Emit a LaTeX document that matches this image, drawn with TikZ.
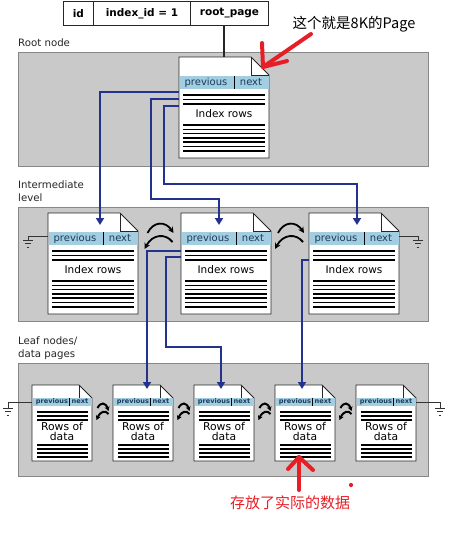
\documentclass[tikz,border=0pt]{standalone}
\usepackage{fontspec}
\setmainfont{DejaVu Sans}
\newfontfamily\cjk{Noto Sans CJK SC}
\usetikzlibrary{calc,arrows.meta}
\definecolor{bandgrey}{RGB}{201,201,201}
\definecolor{bandline}{RGB}{135,135,135}
\definecolor{hdrblue}{RGB}{163,206,226}
\definecolor{hdrtext}{RGB}{25,60,90}
\definecolor{linkblue}{RGB}{35,50,140}
\definecolor{annred}{RGB}{232,30,38}
\tikzset{
  band/.style={draw=bandline, fill=bandgrey, line width=0.8pt, anchor=north west, inner sep=0pt, minimum width=410pt, minimum height=114pt},
  pagebody/.style={anchor=north west, inner sep=0pt, outer sep=0pt},
  pageline/.style={draw=black!85, line width=0.9pt, line join=miter},
  rowline/.style={black, line width=1.6pt},
  hdrfont/.style={font=\fontsize{10}{12}\selectfont, text=hdrtext, inner sep=0pt, text height=7.5pt, text depth=2pt},
  leafhdr/.style={font=\fontsize{6.6}{8}\selectfont\bfseries, text=hdrtext, inner sep=0pt, text height=5pt, text depth=1.4pt},
  bodyfont/.style={font=\fontsize{10.5}{12}\selectfont, inner sep=0pt, text height=7.8pt, text depth=2pt},
  lbl/.style={font=\fontsize{10.2}{13}\selectfont, text=black!85, anchor=west, align=left, inner sep=0pt},
  cell/.style={draw=black!85, line width=0.9pt, fill=white, anchor=north west, inner sep=0pt, minimum height=24pt, font=\fontsize{10.5}{12}\selectfont\bfseries},
  link/.style={draw=linkblue, line width=1.9pt, -{Triangle[length=7pt,width=8pt]}},
  swapbig/.style={black, line width=1.8pt, -{Stealth[length=6pt,width=6pt]}},
  swapleaf/.style={black, line width=2pt, -{Stealth[length=4.5pt,width=5pt]}},
  gline/.style={draw=black!80, line width=0.9pt},
  redarrow/.style={draw=annred, line width=4pt, line cap=round, line join=round},
}
\newcommand\bigpage[3]{%
  \node[pagebody, minimum width=90pt, minimum height=101pt] (#1) at (#2,#3) {};
  \filldraw[pageline, fill=white] (#1.north west) -- ([xshift=-18pt]#1.north east) -- ([yshift=-18pt]#1.north east) -- (#1.south east) -- (#1.south west) -- cycle;
  \draw[pageline] ([xshift=-18pt]#1.north east) |- ([yshift=-18pt]#1.north east);
  \fill[hdrblue] ([xshift=0.5pt,yshift=-19pt]#1.north west) rectangle ([xshift=-0.5pt,yshift=-32pt]#1.north east);
  \node[hdrfont] at ([xshift=27pt,yshift=-25.5pt]#1.north west) {previous};
  \draw[black, line width=0.9pt] ([xshift=55pt,yshift=-19pt]#1.north west) -- ([xshift=55pt,yshift=-32pt]#1.north west);
  \node[hdrfont] at ([xshift=72pt,yshift=-25.5pt]#1.north west) {next};
  \foreach \d in {38,42.5,47}{\draw[rowline] ([xshift=4pt,yshift=-\d pt]#1.north west) -- ([xshift=-4pt,yshift=-\d pt]#1.north east);}
  \node[bodyfont] at ([yshift=-58pt]#1.north) {Index rows};
  \foreach \d in {68,72.3,76.6,80.9,85.2,89.5,93.8}{\draw[rowline] ([xshift=4pt,yshift=-\d pt]#1.north west) -- ([xshift=-4pt,yshift=-\d pt]#1.north east);}
}
\newcommand\leafpage[3]{%
  \node[pagebody, minimum width=60pt, minimum height=76pt] (#1) at (#2,#3) {};
  \filldraw[pageline, fill=white] (#1.north west) -- ([xshift=-13pt]#1.north east) -- ([yshift=-13pt]#1.north east) -- (#1.south east) -- (#1.south west) -- cycle;
  \draw[pageline] ([xshift=-13pt]#1.north east) |- ([yshift=-13pt]#1.north east);
  \fill[hdrblue] ([xshift=0.5pt,yshift=-13pt]#1.north west) rectangle ([xshift=-0.5pt,yshift=-21pt]#1.north east);
  \node[leafhdr] at ([xshift=20pt,yshift=-17pt]#1.north west) {previous};
  \draw[black, line width=0.8pt] ([xshift=37pt,yshift=-13pt]#1.north west) -- ([xshift=37pt,yshift=-21pt]#1.north west);
  \node[leafhdr] at ([xshift=48pt,yshift=-17pt]#1.north west) {next};
  \foreach \d in {27,31,35}{\draw[rowline, line width=1.5pt] ([xshift=5pt,yshift=-\d pt]#1.north west) -- ([xshift=-4pt,yshift=-\d pt]#1.north east);}
  \node[font=\fontsize{10.8}{10}\selectfont, align=center, inner sep=0pt] at ([yshift=-46pt]#1.north) {Rows of\\data};
  \foreach \d in {60,64,68,72}{\draw[rowline, line width=1.5pt] ([xshift=5pt,yshift=-\d pt]#1.north west) -- ([xshift=-4pt,yshift=-\d pt]#1.north east);}
}
\newcommand\groundsym[1]{%
  \draw[gline] ([xshift=-5pt]#1) -- ([xshift=5pt]#1);
  \draw[gline] ([xshift=-3.2pt,yshift=-3.5pt]#1) -- ([xshift=3.2pt,yshift=-3.5pt]#1);
  \draw[gline] ([xshift=-1.4pt,yshift=-7pt]#1) -- ([xshift=1.4pt,yshift=-7pt]#1);
}
\newcommand\swapbig[2]{%
  \coordinate (m#1#2) at ($(#1.north east)!0.5!(#2.north west)$);
  \draw[swapbig] ($(m#1#2)+(-12,20)$) .. controls ($(m#1#2)+(-6,8)$) and ($(m#1#2)+(6,8)$) .. ($(m#1#2)+(14,20)$);
  \draw[swapbig] ($(m#1#2)+(13,29)$) .. controls ($(m#1#2)+(6,20)$) and ($(m#1#2)+(-7,21)$) .. ($(m#1#2)+(-15,36)$);
}
\newcommand\swapleaf[2]{%
  \coordinate (m#1#2) at ($(#1.north east)!0.5!(#2.north west)$);
  \draw[swapleaf] ($(m#1#2)+(-5,23)$) .. controls ($(m#1#2)+(-2,17)$) and ($(m#1#2)+(3,17)$) .. ($(m#1#2)+(6,26)$);
  \draw[swapleaf] ($(m#1#2)+(6,29)$) .. controls ($(m#1#2)+(3,25)$) and ($(m#1#2)+(-2,26)$) .. ($(m#1#2)+(-6,35)$);
}
\begin{document}
\begin{tikzpicture}[x=1pt,y=-1pt]
\useasboundingbox[fill=white] (0,0) rectangle (448,546);
% bands
\node[band] (rootband) at (18,52) {};
\node[band] (midband) at (18,207) {};
\node[band, minimum height=113pt] (leafband) at (18,363) {};
% labels
\node[lbl] (lroot) at (18,43) {Root node};
\node[lbl] (lmid) at (18,191.5) {Intermediate\\level};
\node[lbl] (lleaf) at (18,348) {Leaf nodes/\\data pages};
% table
\node[cell, minimum width=30pt] (tid) at (63,1) {id};
\node[cell, minimum width=97pt] (tidx) at (93,1) {index\_id = 1};
\node[cell, minimum width=78pt] (troot) at (190,1) {root\_page};
% pages
\bigpage{r}{179}{57}
\bigpage{a}{48}{213}
\bigpage{b}{181}{213}
\bigpage{c}{309}{213}
\leafpage{l1}{32}{385}
\leafpage{l2}{113}{385}
\leafpage{l3}{194}{385}
\leafpage{l4}{275}{385}
\leafpage{l5}{356}{385}
% table to root
\draw[black!85, line width=1.8pt] (r.north |- troot.south) -- (r.north);
% swaps
\swapbig{a}{b}
\swapbig{b}{c}
\swapleaf{l1}{l2}
\swapleaf{l2}{l3}
\swapleaf{l3}{l4}
\swapleaf{l4}{l5}
% grounds
\coordinate (ga) at (28,240);
\coordinate (gc) at (418,240);
\coordinate (gl1) at (8,408);
\coordinate (gl5) at (440,408);
\draw[gline] ([yshift=-23pt]a.north west) -| (ga); \groundsym{ga}
\draw[gline] ([yshift=-23pt]c.north east) -| (gc); \groundsym{gc}
\draw[gline] ([yshift=-17pt]l1.north west) -| (gl1); \groundsym{gl1}
\draw[gline] ([yshift=-17pt]l5.north east) -| (gl5); \groundsym{gl5}
% blue links
\coordinate (j2) at (151,199);
\coordinate (j3) at (164,184);
\coordinate (j5) at (166,347);
\draw[link] ([yshift=-35pt]r.north west) -| ([xshift=52pt,yshift=-12pt]a.north west);
\draw[link] ([yshift=-42pt]r.north west) -| (j2) -| ([xshift=38pt,yshift=-12pt]b.north west);
\draw[link] ([yshift=-49pt]r.north west) -| (j3) -| ([xshift=48pt,yshift=-12pt]c.north west);
\draw[link] ([yshift=-38pt]b.north west) -| ([xshift=34pt,yshift=-4pt]l2.north west);
\draw[link] ([yshift=-44pt]b.north west) -| (j5) -| ([xshift=27pt,yshift=-4pt]l3.north west);
\draw[link] ([yshift=-47pt]c.north west) -| ([xshift=27pt,yshift=-4pt]l4.north west);
% annotations
\node[font=\cjk\fontsize{14.5}{16}\selectfont, inner sep=0pt] (note1) at (354,24) {这个就是8K的Page};
\coordinate (a1s) at (311,34);
\coordinate (a1t) at (263,67);
\draw[redarrow] (a1s) -- (a1t);
\draw[redarrow] ($(a1t)+(-1,-24)$) -- (a1t) -- ($(a1t)+(24,-6)$);
\coordinate (a2s) at (299,490);
\coordinate (a2t) at (299,457);
\draw[redarrow] (a2s) -- (a2t);
\draw[redarrow] ($(a2t)+(-11,12)$) -- (a2t) -- ($(a2t)+(14,13)$);
\node[font=\cjk\fontsize{15}{16}\selectfont, text=annred, inner sep=0pt] (note2) at (290,503) {存放了实际的数据};
\fill[annred] (351,485) circle (2.1pt);
\end{tikzpicture}
\end{document}
